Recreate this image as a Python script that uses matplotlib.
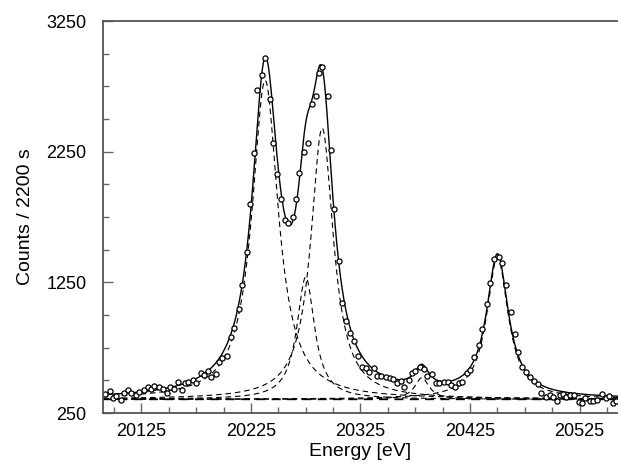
import numpy as np
import matplotlib
matplotlib.use("Agg")
import matplotlib.pyplot as plt
from matplotlib.ticker import MultipleLocator

plt.rcParams['font.family'] = ['Liberation Sans', 'DejaVu Sans']

# Measured data points (energy in eV, counts per 2200 s)
energy = [20092, 20096, 20099, 20102, 20106, 20109, 20113, 20116, 20120, 20123,
          20127, 20131, 20134, 20137, 20141, 20145, 20148, 20151, 20155, 20158,
          20162, 20165, 20168, 20172, 20175, 20179, 20182, 20186, 20189, 20193,
          20196, 20199, 20203, 20207, 20210, 20214, 20217, 20221, 20224, 20228,
          20231, 20235, 20238, 20242, 20245, 20249, 20252, 20256, 20259, 20263,
          20266, 20269, 20273, 20277, 20281, 20284, 20287, 20290, 20295, 20298,
          20301, 20305, 20308, 20312, 20315, 20319, 20323, 20326, 20330, 20333,
          20337, 20340, 20344, 20348, 20352, 20355, 20358, 20362, 20365, 20369,
          20372, 20375, 20379, 20383, 20386, 20390, 20394, 20397, 20401, 20405,
          20408, 20411, 20415, 20418, 20422, 20425, 20429, 20433, 20436, 20440,
          20443, 20447, 20451, 20454, 20458, 20462, 20466, 20469, 20472, 20476,
          20480, 20483, 20487, 20490, 20494, 20498, 20501, 20504, 20507, 20510,
          20513, 20516, 20520, 20524, 20527, 20530, 20534, 20537, 20541, 20545,
          20549, 20552, 20555, 20558]
counts = [393, 418, 362, 382, 349, 405, 426, 401, 388, 413,
          426, 449, 431, 457, 447, 431, 405, 451, 436, 485,
          426, 482, 487, 500, 482, 554, 543, 569, 528, 548,
          640, 671, 686, 829, 898, 1043, 1229, 1479, 1847, 2242,
          2724, 2834, 2970, 2650, 2318, 2080, 1885, 1727, 1701, 1752,
          1885, 2084, 2249, 2320, 2614, 2675, 2854, 2900, 2675, 2262,
          1812, 1410, 1092, 955, 862, 801, 686, 604, 592, 566,
          597, 533, 530, 526, 515, 508, 477, 494, 447, 505,
          556, 570, 600, 588, 533, 551, 477, 477, 490, 490,
          464, 451, 482, 490, 558, 579, 676, 770, 890, 1084,
          1247, 1428, 1446, 1395, 1229, 1025, 854, 714, 600, 562,
          528, 494, 475, 403, 375, 385, 370, 344, 385, 395,
          370, 385, 385, 336, 327, 362, 345, 345, 350, 395,
          365, 378, 324, 345]

# Fitted components (Lorentzian lines on a flat background)
background = 355
peak_centers = [20238, 20275, 20290, 20381, 20450]
peak_heights = [2440, 935, 2075, 165, 1085]
peak_widths = [14.5, 9.8, 12.5, 8.0, 12.0]   # half widths at half maximum

xticks = [20125, 20225, 20325, 20425, 20525]
yticks = [250, 1250, 2250, 3250]


def lorentz(x, c, h, w):
    return h / (1.0 + ((x - c) / w) ** 2)


fig = plt.figure(figsize=(6.18, 4.66), dpi=100)
ax = fig.add_axes([103 / 618, 53 / 466, 1 - 103 / 618, (413 - 21) / 466])

xs = np.linspace(20085, 20570, 1500)
total = np.full_like(xs, float(background))
for c, h, w in zip(peak_centers, peak_heights, peak_widths):
    comp = lorentz(xs, c, h, w)
    total += comp
    ax.plot(xs, background + comp, color='black', lw=0.8, dashes=(5, 3.5))
ax.plot(xs, np.full_like(xs, float(background)), color='black', lw=1.3, dashes=(5, 3.5))
ax.plot(xs, total, color='black', lw=1.0)
ax.plot(energy, counts, linestyle='none', marker='o', markersize=3.7,
        markerfacecolor='white', markeredgecolor='black', markeredgewidth=0.9)

ax.set_xlim(20090, 20560)
ax.set_ylim(250, 3250)

ax.set_xticks(xticks)
ax.set_yticks(yticks)
ax.xaxis.set_minor_locator(MultipleLocator(25))
ax.yaxis.set_minor_locator(MultipleLocator(250))
ax.tick_params(which='both', direction='in', color='#666666', width=1.0,
               labelsize=13, top=False, right=False)
ax.tick_params(which='major', length=7)
ax.tick_params(which='minor', length=4)
ax.tick_params(axis='y', which='both', pad=12)
ax.tick_params(axis='x', which='both', pad=7)
for s in ['left', 'bottom', 'top']:
    ax.spines[s].set_color('#555555')
    ax.spines[s].set_linewidth(1.3)
ax.spines['right'].set_visible(False)

ax.set_xlabel('Energy [eV]', fontsize=14, labelpad=2)
ax.set_ylabel('Counts / 2200 s', fontsize=14, labelpad=9)

fig.savefig('out.png', dpi=100)
